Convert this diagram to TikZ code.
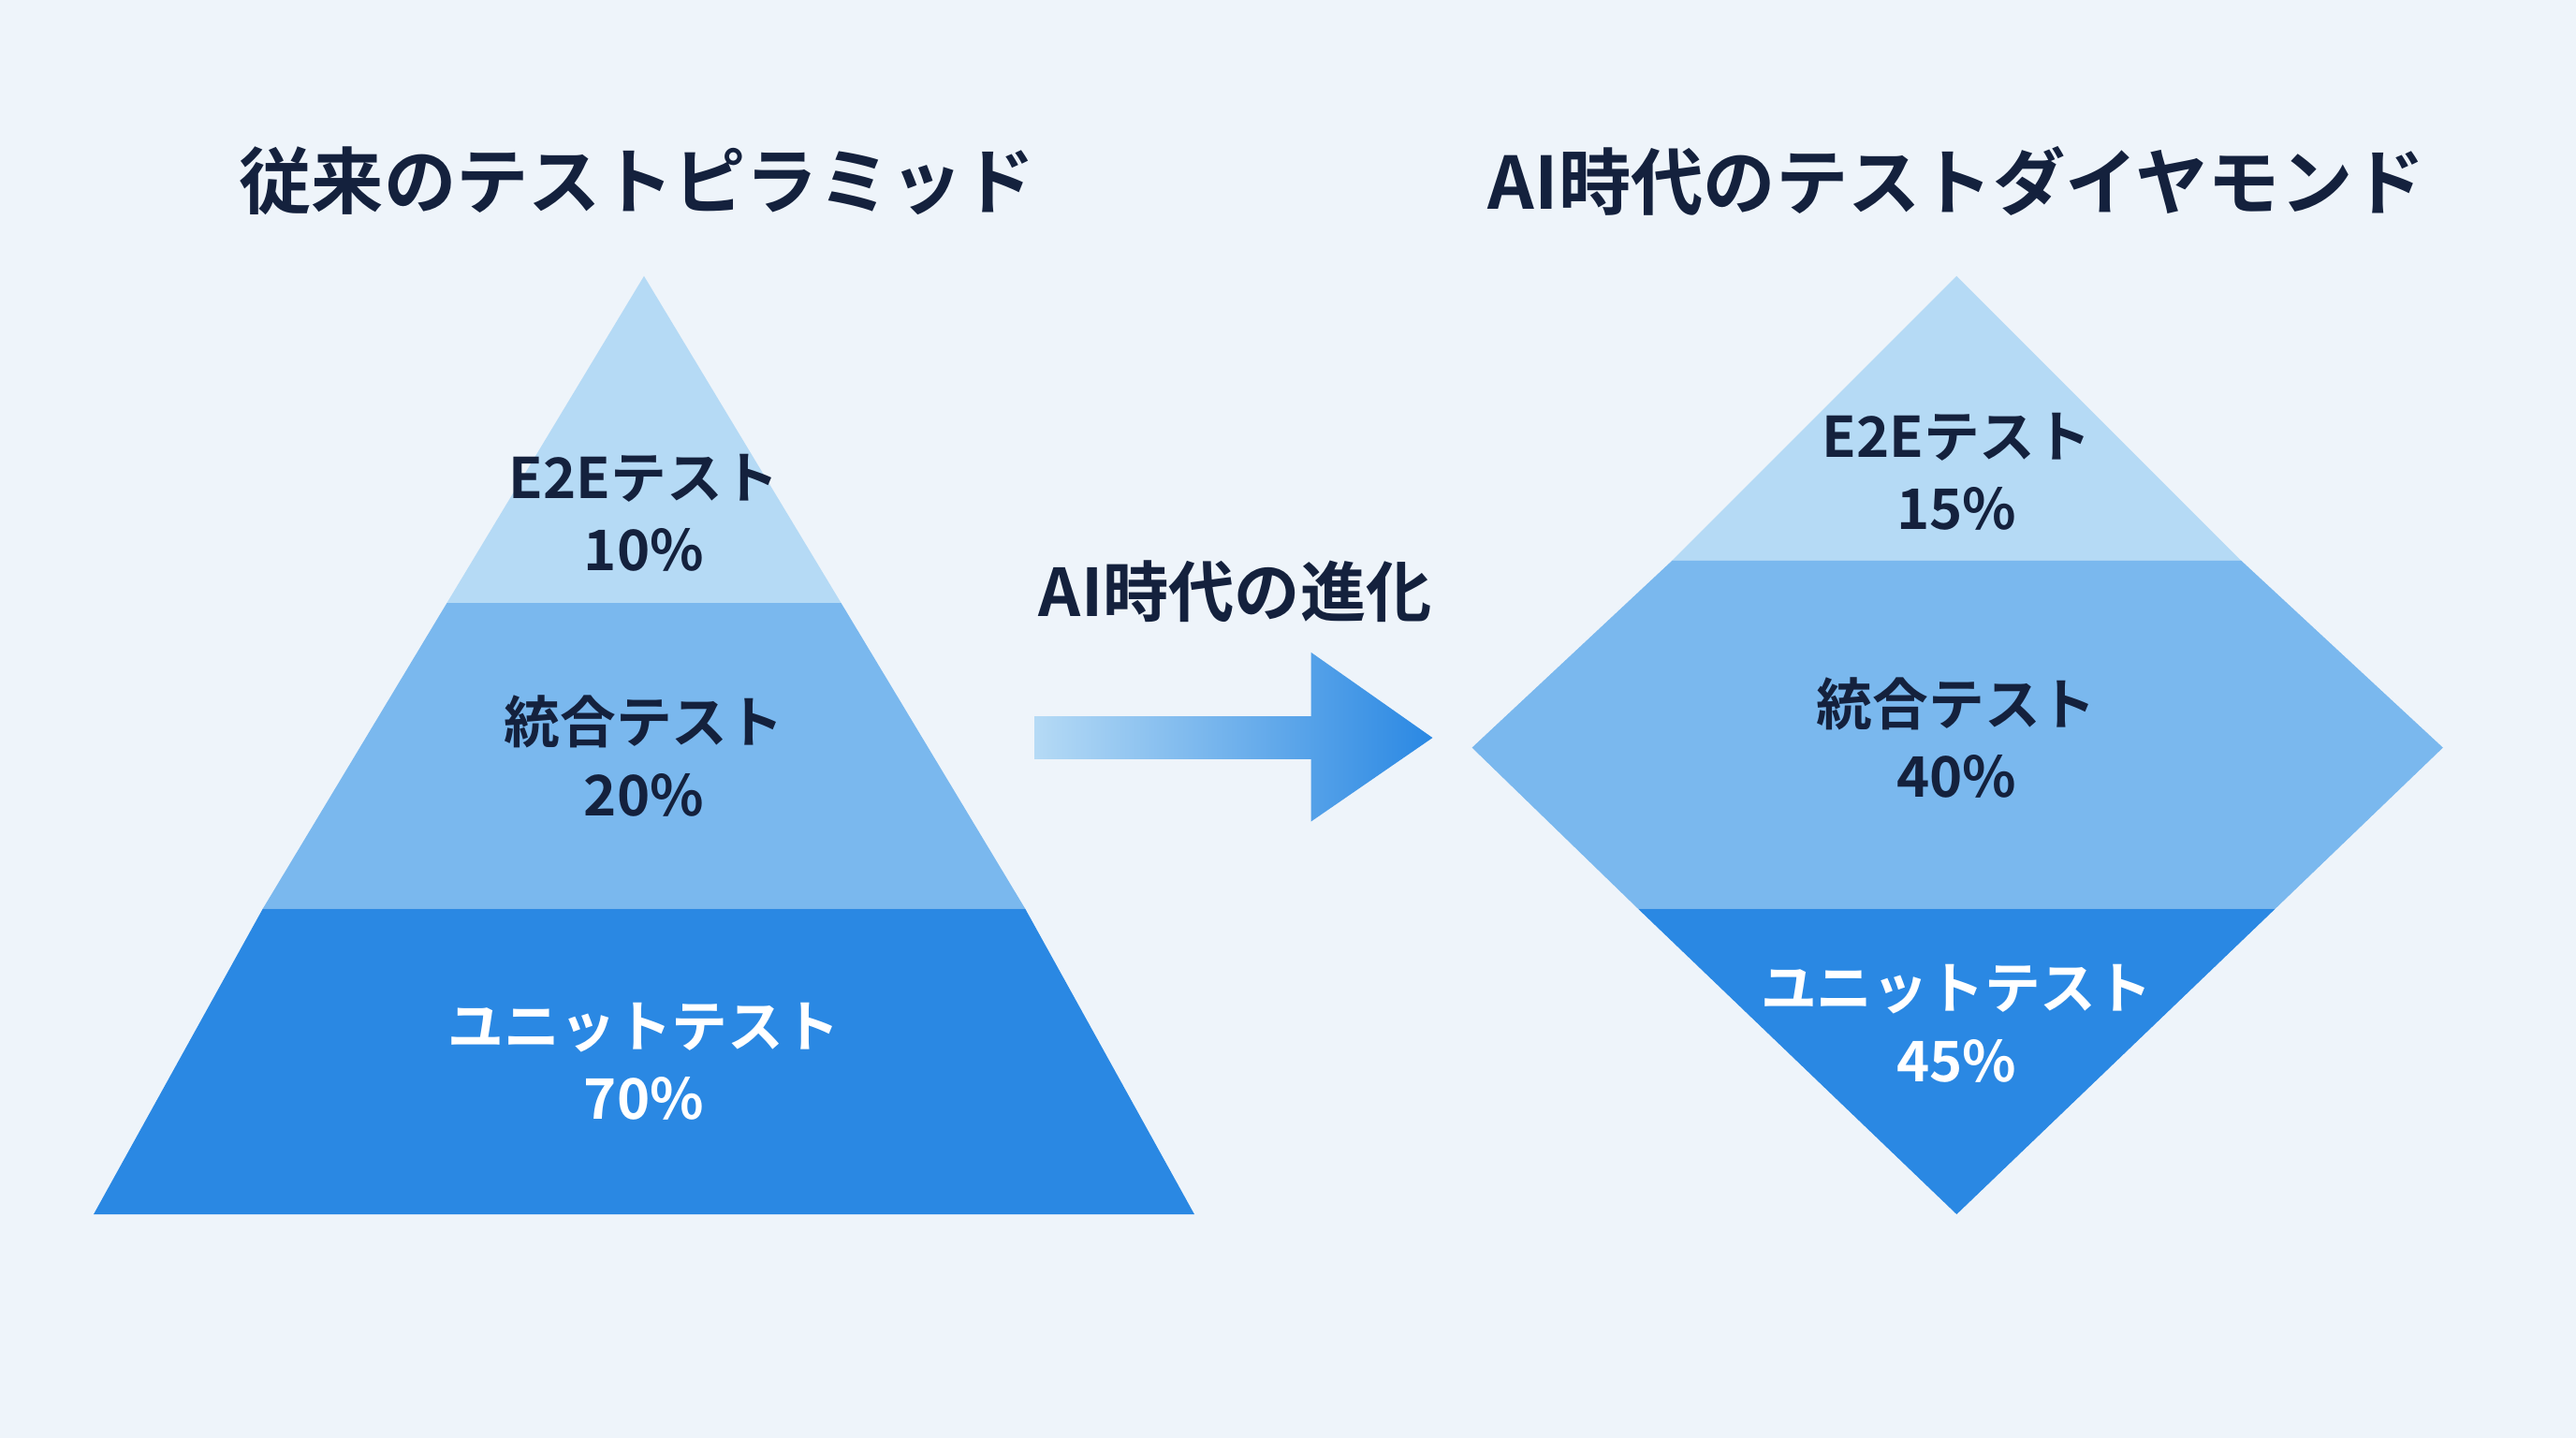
\documentclass[tikz,border=0pt]{standalone}
\usepackage{fontspec}
\setmainfont{Noto Sans CJK JP}[BoldFont={Noto Sans CJK JP Bold}]
\definecolor{bg}{HTML}{EEF4FA}
\definecolor{cA}{HTML}{B5DAF5}
\definecolor{cB}{HTML}{7AB8EE}
\definecolor{cC}{HTML}{2A88E3}
\definecolor{ink}{HTML}{14213D}
\begin{document}
\begin{tikzpicture}[x=0.01755cm,y=-0.01755cm,
  title/.style={font=\bfseries\fontsize{22}{26}\selectfont,text=ink},
  lab/.style={font=\bfseries\fontsize{17}{22}\selectfont,text=ink,align=center},
  labw/.style={font=\bfseries\fontsize{17}{22}\selectfont,text=white,align=center}]
\fill[bg] (0,0) rectangle (1568,875);
\useasboundingbox (0,0) rectangle (1568,875);
% pyramid
\fill[cA] (392,168) -- (512,367) -- (272,367) -- cycle;
\fill[cB] (272,367) -- (512,367) -- (624,553) -- (160,553) -- cycle;
\fill[cC] (160,553) -- (624,553) -- (727,739) -- (57,739) -- cycle;
% diamond
\fill[cA] (1191,168) -- (1364,341) -- (1018,341) -- cycle;
\fill[cB] (1018,341) -- (1364,341) -- (1487,455) -- (1385,553) -- (997,553) -- (896,455) -- cycle;
\fill[cC] (997,553) -- (1385,553) -- (1191,739) -- cycle;
% arrow
\shade[left color=cA, right color=cC] (630,436) -- (798,436) -- (798,397) -- (872,449) -- (798,500) -- (798,462) -- (630,462) -- cycle;
\node[title] (t1) at (388,110) {従来のテストピラミッド};
\node[title] (t2) at (1191,110) {AI時代のテストダイヤモンド};
\node[title,font=\bfseries\fontsize{20}{24}\selectfont] (ev) at (752,360) {AI時代の進化};
\node[lab] (p1) at (392,312) {E2Eテスト\\10\%};
\node[lab] (p2) at (392,460) {統合テスト\\20\%};
\node[labw] (p3) at (392,646) {ユニットテスト\\70\%};
\node[lab] (d1) at (1191,287) {E2Eテスト\\15\%};
\node[lab] (d2) at (1191,449) {統合テスト\\40\%};
\node[labw] (d3) at (1191,623) {ユニットテスト\\45\%};
\end{tikzpicture}
\end{document}
